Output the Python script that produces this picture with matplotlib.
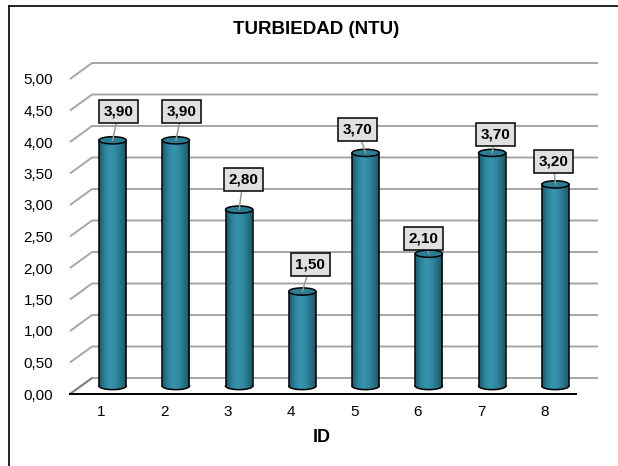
import numpy as np
import matplotlib
matplotlib.use("Agg")
import matplotlib.pyplot as plt
from matplotlib.patches import Ellipse, PathPatch
from matplotlib.path import Path
from matplotlib.lines import Line2D
from matplotlib.colors import LinearSegmentedColormap

plt.rcParams['font.family'] = ['Liberation Sans', 'DejaVu Sans']

# data
ids = [1, 2, 3, 4, 5, 6, 7, 8]
turbidez = [3.90, 3.90, 2.80, 1.50, 3.70, 2.10, 3.70, 3.20]
y_ticks = [0.0, 0.5, 1.0, 1.5, 2.0, 2.5, 3.0, 3.5, 4.0, 4.5, 5.0]
titulo = "TURBIEDAD (NTU)"
eje_x = "ID"

# label box offsets (pixels) from the top of each cylinder
lab_off = [(6, 29), (6, 29), (4, 30), (8, 27), (-8, 23), (-5, 15), (3, 18), (-2, 23)]

def fmt(v):
    return ("%.2f" % v).replace(".", ",")

DX = 22 / 63.2   # depth in x units
DY = 16 / 63.0   # depth in y units
W = 0.43         # cylinder width
EH = 0.115       # ellipse height

fig = plt.figure(figsize=(6.18, 4.66), dpi=100)
fig.patch.set_facecolor("white")

# outer frame (left and top visible)
fig.add_artist(Line2D([8.5 / 618, 8.5 / 618], [0, 1 - 5.5 / 466], color="black", lw=1.2))
fig.add_artist(Line2D([8.5 / 618, 1], [1 - 5.5 / 466, 1 - 5.5 / 466], color="black", lw=1.2))

ax = fig.add_axes([70 / 618, (466 - 394) / 466, 528 / 618, 331 / 466])
ax.set_xlim(0.5, 8.5 + DX)
ax.set_ylim(0, 5 + DY)
for s in ax.spines.values():
    s.set_visible(False)

# walls / gridlines
for v in y_ticks:
    ax.plot([0.5, 0.5 + DX, 8.5 + DX], [v, v + DY, v + DY], color="#a6a6a6", lw=1.4,
            clip_on=False, zorder=1, solid_capstyle="butt")
ax.plot([0.5, 0.5 + DX], [0, DY], color="#808080", lw=1.4, clip_on=False, zorder=1)
ax.plot([0.5, 8.5], [0, 0], color="black", lw=1.4, clip_on=False, zorder=2)

cmap = LinearSegmentedColormap.from_list("cyl", ["#1c586a", "#2c8098", "#3894ae", "#3089a2", "#276f84", "#1a4f60"])
grad = np.linspace(0, 1, 256).reshape(1, -1)

for i, v in zip(ids, turbidez):
    cx = i + DX / 2
    base = DY / 2
    top = base + v
    # body path: left side down, bottom front half-ellipse, right side up
    t = np.linspace(np.pi, 2 * np.pi, 40)
    bx = cx + W / 2 * np.cos(t)
    by = base + EH / 2 * np.sin(t)
    verts = [(cx - W / 2, top)] + list(zip(bx, by)) + [(cx + W / 2, top), (cx - W / 2, top)]
    codes = [Path.MOVETO] + [Path.LINETO] * (len(verts) - 2) + [Path.CLOSEPOLY]
    body = PathPatch(Path(verts, codes), facecolor="none", edgecolor="none", zorder=3)
    ax.add_patch(body)
    im = ax.imshow(grad, cmap=cmap, aspect="auto", extent=(cx - W / 2, cx + W / 2, base - EH, top),
                   zorder=3, interpolation="bilinear")
    im.set_clip_path(body)
    ax.plot(list(bx), list(by), color="black", lw=1.1, zorder=4)
    ax.plot([cx - W / 2, cx - W / 2], [base, top], color="black", lw=1.1, zorder=4)
    ax.plot([cx + W / 2, cx + W / 2], [base, top], color="black", lw=1.1, zorder=4)
    ax.add_patch(Ellipse((cx, top), W, EH, facecolor="#2c7d94", edgecolor="black", lw=1.1, zorder=5))

for (i, v), off in zip(zip(ids, turbidez), lab_off):
    cx = i + DX / 2
    ax.annotate(fmt(v), xy=(cx, DY / 2 + v), xytext=off, textcoords="offset pixels",
                ha="center", va="center", fontsize=11, fontweight="bold", zorder=6,
                bbox=dict(boxstyle="square,pad=0.3", fc="#e0e0e0", ec="black", lw=1.1),
                arrowprops=dict(arrowstyle="-", color="#999999", lw=1.1, shrinkA=0, shrinkB=0))

ax.set_yticks(y_ticks, labels=[fmt(v) for v in y_ticks])
ax.set_xticks(ids, labels=[str(i) for i in ids])
ax.tick_params(axis="both", length=0, labelsize=11, colors="black")
ax.tick_params(axis="y", pad=12)
ax.tick_params(axis="x", pad=8)
ax.set_xlabel(eje_x, fontsize=13, fontweight="bold", va="center")
ax.xaxis.set_label_coords((322 - 70) / 528, (394 - 438) / 331)

fig.text(316 / 618, 1 - 30 / 466, titulo, ha="center", va="center", fontsize=13.5, fontweight="bold")

fig.savefig("out.png", dpi=100)
